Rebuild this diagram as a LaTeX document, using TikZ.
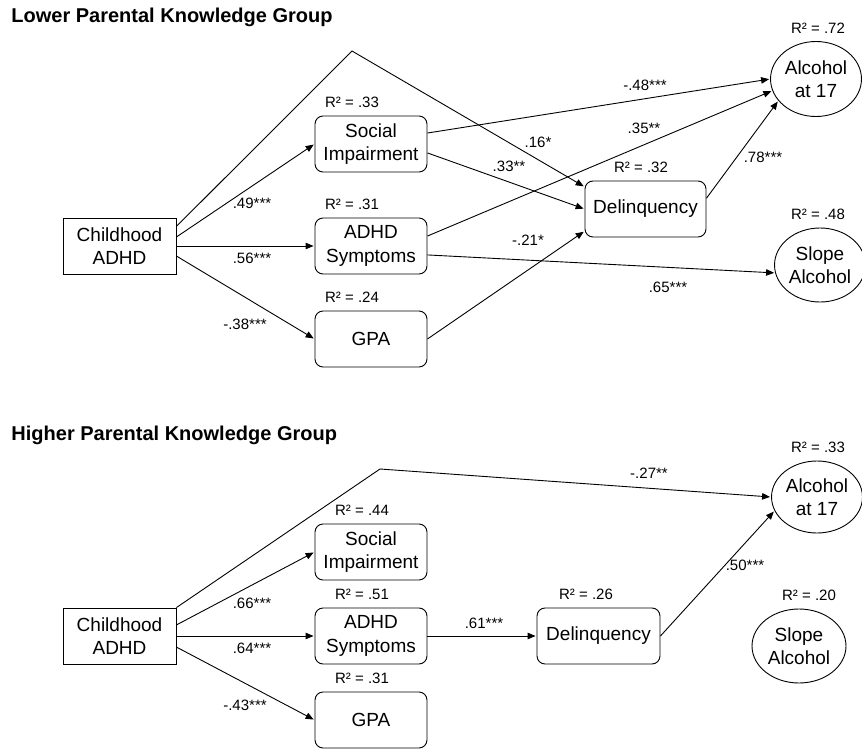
\documentclass[tikz,border=0pt]{standalone}
\usepackage{fontspec}
\setmainfont{Liberation Sans}
\usetikzlibrary{positioning, shapes.geometric, arrows.meta}

\tikzset{
    obsbox/.style={draw, minimum width=113pt, minimum height=56pt, inner sep=1pt,
        align=center, font=\fontsize{19}{23.5}\selectfont},
    medbox/.style={obsbox, rounded corners=8pt, minimum width=112pt},
    outell/.style={obsbox, ellipse, minimum width=90pt, minimum height=75pt},
    coef/.style={font=\fontsize{15}{18}\selectfont, inner sep=0pt},
    grp/.style={font=\fontsize{20}{24}\selectfont\bfseries, anchor=west, inner sep=0pt},
    every label/.style={font=\fontsize{15}{18}\selectfont, inner sep=1pt},
    label distance=6.5pt
}

\begin{document}
\begin{tikzpicture}[x=1pt, y=-1pt, on grid, shorten >=1pt, line width=0.9pt,
        >={Triangle[length=8pt, width=6.5pt]}]
    \useasboundingbox (0,0) rectangle (862,749);

    % lower parental knowledge
    \node[grp] (t1) at (11,17) {Lower Parental Knowledge Group};
    \node[obsbox] (cA) at (119.5,246) {Childhood\\ADHD};
    \node[medbox] (sym) [right=251.5pt of cA, label={[xshift=-19pt]above:{R² = .31}}] {ADHD\\Symptoms};
    \node[medbox] (soc) [above=102pt of sym, label={[xshift=-19pt]above:{R² = .33}}] {Social\\Impairment};
    \node[medbox] (gpa) [below=93pt of sym, label={[xshift=-19pt]above:{R² = .24}}] {GPA};
    \node[medbox, minimum width=121pt] (del) at (645.5,209) [label={[xshift=-4.5pt]above:{R² = .32}}] {Delinquency};
    \node[outell] (alc) at (816,79) [label={[xshift=2pt]above:{R² = .72}}] {Alcohol\\at 17};
    \node[outell, minimum width=84pt, minimum height=74pt] (slope) at (820,265) [label={[xshift=-2pt]above:{R² = .48}}] {Slope\\Alcohol};
    \coordinate (tp) at (352,51);

    \draw[->] (cA.19) -- (tp) -- (del.160);
    \path[->]
        (cA.9) edge (soc.west)
        (cA.east) edge (sym.west)
        (cA.-10) edge (gpa.west)
        (soc.11) edge (alc.west)
        (soc.-9) edge (del.west)
        (sym.10) edge (alc.195)
        (sym.-9) edge (slope.190)
        (gpa.east) edge (del.200)
        (del.10) edge (alc.210);

    \node[coef] (a1) at (252,203) {.49***};
    \node[coef] (a2) at (252,258) {.56***};
    \node[coef] (a3) at (245,324) {-.38***};
    \node[coef] (a4) at (645,85) {-.48***};
    \node[coef] (a5) at (538,142) {.16*};
    \node[coef] (a6) at (509,166) {.33**};
    \node[coef] (a7) at (644,128) {.35**};
    \node[coef] (a8) at (763,157) {.78***};
    \node[coef] (a9) at (528,240) {-.21*};
    \node[coef] (a10) at (668,287) {.65***};

    % higher parental knowledge
    \node[grp] (t2) at (11,435) {Higher Parental Knowledge Group};
    \node[obsbox] (cB) at (119.5,636) {Childhood\\ADHD};
    \node[medbox] (symB) [right=251.5pt of cB, label={[xshift=-9pt]above:{R² = .51}}] {ADHD\\Symptoms};
    \node[medbox] (socB) [above=84pt of symB, label={[xshift=-9pt]above:{R² = .44}}] {Social\\Impairment};
    \node[medbox] (gpaB) [below=84pt of symB, label={[xshift=-9pt]above:{R² = .31}}] {GPA};
    \node[medbox, minimum width=123pt] (delB) [right=227.5pt of symB, label={[xshift=-12.5pt]above:{R² = .26}}] {Delinquency};
    \node[outell, minimum height=72pt] (alcB) at (817,497) [label={[xshift=1pt]above:{R² = .33}}] {Alcohol\\at 17};
    \node[outell, minimum width=94pt, minimum height=74pt] (slopeB) at (799,646) [label={[xshift=10pt]above:{R² = .20}}] {Slope\\Alcohol};
    \coordinate (tpB) at (380,469);

    \draw[->] (cB.north east) -- (tpB) -- (alcB.west);
    \path[->]
        (cB.11) edge (socB.west)
        (cB.east) edge (symB.west)
        (cB.-11) edge (gpaB.west)
        (symB.east) edge (delB.west)
        (delB.east) edge (alcB.198);

    \node[coef] (b1) at (252,603) {.66***};
    \node[coef] (b2) at (252,648) {.64***};
    \node[coef] (b3) at (245,705) {-.43***};
    \node[coef] (b4) at (649,473) {-.27**};
    \node[coef] (b5) at (745,565) {.50***};
    \node[coef] (b6) at (484,623) {.61***};
\end{tikzpicture}
\end{document}
